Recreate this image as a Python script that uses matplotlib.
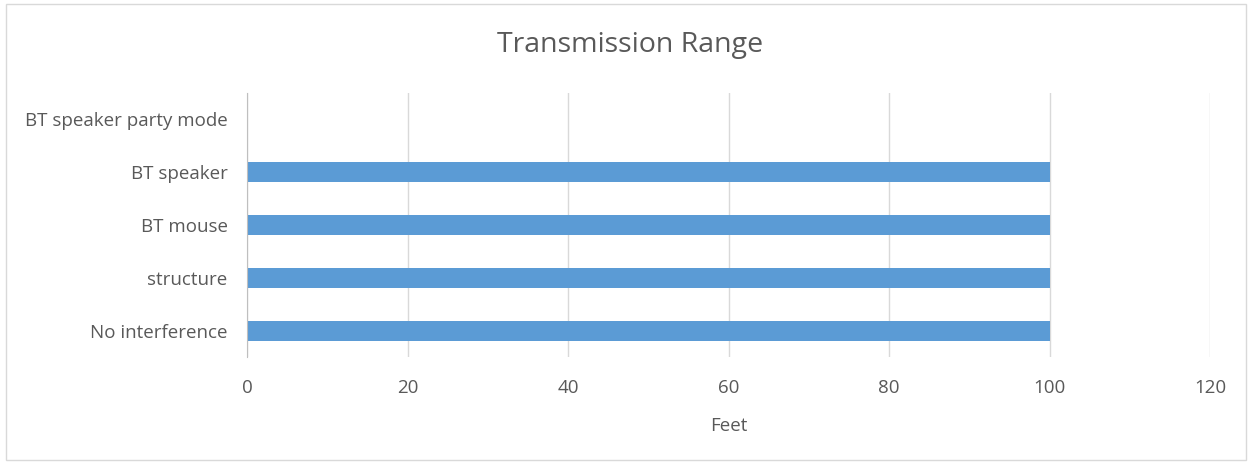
import numpy as np
import matplotlib
matplotlib.use("Agg")
import matplotlib.pyplot as plt
from matplotlib.patches import Rectangle

plt.rcParams['font.family'] = ['Open Sans', 'DejaVu Sans']

# data (bottom to top, as drawn)
categories = ['No interference', 'structure', 'BT mouse', 'BT speaker', 'BT speaker party mode']
feet = [100, 100, 100, 100, 0]
x_ticks = [0, 20, 40, 60, 80, 100, 120]

text_col = '#595959'
bar_col = '#5b9bd5'
grid_col = '#d9d9d9'

fig = plt.figure(figsize=(12.53, 4.63), dpi=100)
fig.patches.append(Rectangle((6 / 1253, 3 / 463), 1240 / 1253, 456 / 463,
                             transform=fig.transFigure, fill=False,
                             edgecolor='#d9d9d9', linewidth=1))

ax = fig.add_axes([247 / 1253, 106 / 463, 963 / 1253, 264 / 463])
y = np.arange(len(categories))
ax.barh(y, feet, height=0.38, color=bar_col, zorder=3)

ax.set_xlim(0, 120)
ax.set_ylim(-0.5, len(categories) - 0.5)
ax.set_xticks(x_ticks)
ax.set_xticklabels([str(t) for t in x_ticks])
ax.set_yticks(y)
ax.set_yticklabels(categories)
ax.tick_params(axis='both', length=0, colors=text_col, labelsize=13.5)
ax.tick_params(axis='x', pad=16)
ax.tick_params(axis='y', pad=14)

ax.grid(axis='x', color=grid_col, linewidth=1, zorder=0)
for s in ['top', 'right', 'bottom']:
    ax.spines[s].set_visible(False)
ax.spines['left'].set_color('#bfbfbf')
ax.spines['left'].set_zorder(4)

ax.set_xlabel('Feet', color=text_col, fontsize=13.5, labelpad=14)
fig.text(630 / 1253, 1 - 45 / 463, 'Transmission Range', ha='center', va='center',
         fontsize=20.5, color=text_col)

fig.savefig('out.png', dpi=100)
